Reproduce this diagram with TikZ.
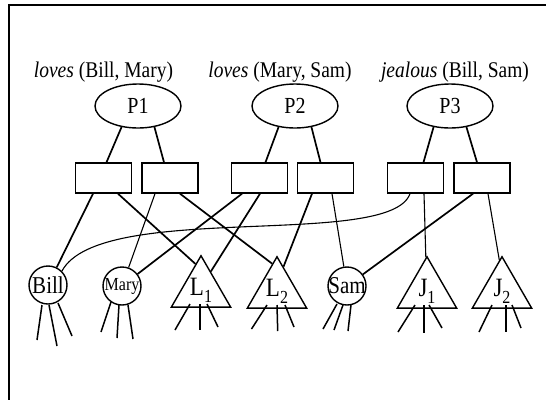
\documentclass[tikz,border=0pt]{standalone}
\usepackage{fontspec}
\usepackage{graphicx}
\setmainfont{Liberation Serif}
\usetikzlibrary{shapes.geometric,calc}
\newcommand{\tl}[1]{\scalebox{1}[1.15]{#1}}
\newcommand{\subsc}[1]{\raisebox{-6pt}{\fontsize{16}{16}\selectfont #1}}
\begin{document}
\begin{tikzpicture}[x=1pt,y=-1pt,
  edge/.style={line width=1.7pt},
  thinedge/.style={line width=1.1pt},
  leg/.style={line width=1.5pt},
  frame/.style={line width=1.5pt},
  lbl/.style={inner sep=0pt,font=\fontsize{19.5}{22}\selectfont},
  prop/.style={ellipse,draw,line width=1.4pt,minimum width=86pt,minimum height=44pt,inner sep=0pt,font=\fontsize{20}{22}\selectfont},
  rbox/.style={rectangle,draw,line width=1.4pt,minimum width=56pt,minimum height=30pt,inner sep=0pt},
  ent/.style={circle,draw,line width=1.4pt,minimum size=38pt,inner sep=0pt},
  tri/.style={regular polygon,regular polygon sides=3,draw,line width=1.4pt,minimum size=56pt,inner sep=0pt,font=\fontsize{23}{24}\selectfont}
]
\useasboundingbox (0,0) rectangle (546,400);
\draw[frame] (546,5) -- (9,5) -- (9,400);

% labels
\node[lbl] (t1) at (103.5,72) {\tl{\textit{loves} (Bill, Mary)}};
\node[lbl] (t2) at (280,72) {\tl{\textit{loves} (Mary, Sam)}};
\node[lbl] (t3) at (455,72) {\tl{\textit{jealous} (Bill, Sam)}};

% propositions
\node[prop] (P1) at (138,106) {\tl{P1}};
\node[prop] (P2) at (295,106) {\tl{P2}};
\node[prop] (P3) at (450,106) {\tl{P3}};

% role boxes
\node[rbox] (b1) at (103.5,178) {};
\node[rbox] (b2) at (170,178) {};
\node[rbox] (b3) at (259.5,178) {};
\node[rbox] (b4) at (325.5,178) {};
\node[rbox] (b5) at (415.5,178) {};
\node[rbox] (b6) at (482,178) {};

% entities
\node[ent,font=\fontsize{21}{22}\selectfont] (Bill) at (48,285) {\makebox[0pt]{\tl{Bill}}};
\node[ent,font=\fontsize{16}{17}\selectfont] (Mary) at (122,286) {\makebox[0pt]{\tl{Mary}}};
\node[ent,font=\fontsize{21}{22}\selectfont] (Sam) at (347,286) {\makebox[0pt]{\tl{Sam}}};
\node[tri] (L1) at (201,290) {\tl{L\subsc{1}}};
\node[tri] (L2) at (277,291) {\tl{L\subsc{2}}};
\node[tri] (J1) at (427,291) {\tl{J\subsc{1}}};
\node[tri] (J2) at (502,291) {\tl{J\subsc{2}}};

% proposition to boxes
\draw[edge] (P1.232) -- ($(b1.north)+(3,0)$);
\draw[edge] (P1.308) -- ($(b2.north)+(-6,0)$);
\draw[edge] (P2.232) -- ($(b3.north)+(6,0)$);
\draw[edge] (P2.308) -- ($(b4.north)+(-5,0)$);
\draw[edge] (P3.232) -- ($(b5.north)+(8,0)$);
\draw[edge] (P3.308) -- ($(b6.north)+(-5,0)$);

% boxes to entities
\draw[edge] ($(b1.south)+(-10.5,0)$) -- (Bill);
\draw[edge] ($(b1.south)+(14.5,0)$) -- (L1.102);
\draw[thinedge] ($(b2.south)+(-15,0)$) -- (Mary);
\draw[edge] ($(b2.south)+(10,0)$) -- (L2.100);
\draw[edge] ($(b3.south)+(-17.5,0)$) -- (Mary);
\draw[edge] ($(b3.south)+(0.5,0)$) -- (L1.62);
\draw[edge] ($(b4.south)+(-13.5,0)$) -- (L2.75);
\draw[thinedge] ($(b4.south)+(6.5,0)$) -- (Sam);
\draw[thinedge] ($(b5.south)+(-5.5,0)$) .. controls (390,250) and (100,200) .. (Bill.45);
\draw[thinedge] ($(b5.south)+(8.5,0)$) -- (J1.92);
\draw[edge] ($(b6.south)+(-9,0)$) -- (Sam);
\draw[thinedge] ($(b6.south)+(6,0)$) -- (J2.95);

% legs
\draw[leg] (Bill) ++(-6,20) -- ++(-5,35);
\draw[leg] (Bill) ++(1,20) -- ++(8,41);
\draw[leg] (Bill) ++(10,18) -- ++(14,33);
\draw[leg] (Mary) ++(-11,16) -- ++(-10,30);
\draw[leg] (Mary) ++(-3,19) -- ++(-2,33);
\draw[leg] (Mary) ++(6,19) -- ++(5,34);
\draw[leg] (L1) ++(-11,14) -- ++(-15,26);
\draw[leg] (L1) ++(-1,14) -- ++(0,26);
\draw[leg] (L1) ++(6,14) -- ++(11,23);
\draw[leg] (L2) ++(-10,14) -- ++(-15.5,24);
\draw[leg] (L2) ++(0,14) -- ++(0.7,26);
\draw[leg] (L2) ++(8,14) -- ++(9,22);
\draw[leg] (Sam) ++(-10,18) -- ++(-14,25);
\draw[leg] (Sam) ++(-4,19) -- ++(-9,25);
\draw[leg] (Sam) ++(4,19) -- ++(-3,26);
\draw[leg] (J1) ++(-12,14) -- ++(-17,27);
\draw[leg] (J1) ++(-3,14) -- ++(0,28);
\draw[leg] (J1) ++(2,14) -- ++(13,23);
\draw[leg] (J2) ++(-10,14) -- ++(-13,27);
\draw[leg] (J2) ++(4,14) -- ++(0,27);
\draw[leg] (J2) ++(10,14) -- ++(9,23);
\end{tikzpicture}
\end{document}
